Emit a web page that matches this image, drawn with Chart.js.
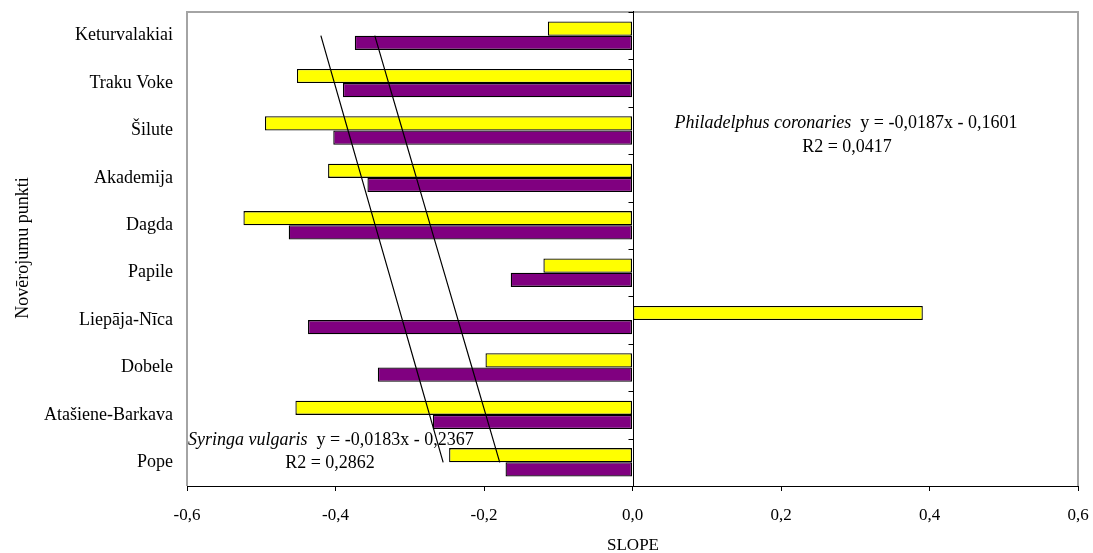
<!DOCTYPE html>
<html>
<head>
<meta charset="utf-8">
<script src="https://cdn.jsdelivr.net/npm/chart.js@4.4.1/dist/chart.umd.min.js"></script>
<style>
    html, body { margin: 0; padding: 0; background: #ffffff; }
    #wrap { width: 1093px; height: 553px; position: relative; }
</style>
</head>
<body>
<div id="wrap"><canvas id="slopes"></canvas></div>
<script>
const stations = [
    'Keturvalakiai',
    'Traku Voke',
    'Šilute',
    'Akademija',
    'Dagda',
    'Papile',
    'Liepāja-Nīca',
    'Dobele',
    'Atašiene-Barkava',
    'Pope',
];

const philadelphusSlopes = [-0.114, -0.452, -0.495, -0.410, -0.524, -0.120, 0.391, -0.198, -0.454, -0.247];
const syringaSlopes = [-0.374, -0.390, -0.403, -0.357, -0.463, -0.164, -0.437, -0.343, -0.269, -0.171];

// linear trends; x counts stations from the bottom (Pope = 1)
const philadelphusTrend = { name: 'Philadelphus coronaries', slope: -0.0187, intercept: -0.1601, r2: 0.0417 };
const syringaTrend = { name: 'Syringa vulgaris', slope: -0.0183, intercept: -0.2367, r2: 0.2862 };

const slopeMin = -0.6;
const slopeMax = 0.6;
const slopeStep = 0.2;

const serif = '"Liberation Serif", "Times New Roman", serif';

function comma(value, digits) {
    if (Math.abs(value) < 1e-9) {
        value = 0;
    }
    return value.toFixed(digits).replace('.', ',');
}

function trendValues(trend) {
    return stations.map((_, index) => trend.slope * (stations.length - index) + trend.intercept);
}

function equationText(trend) {
    const sign = trend.intercept < 0 ? '-' : '+';
    return `y = ${comma(trend.slope, 4)}x ${sign} ${comma(Math.abs(trend.intercept), 4)}`;
}

function drawEquation(ctx, trend, x, y, align) {
    const italic = `italic 18px ${serif}`;
    const plain = `18px ${serif}`;
    const name = trend.name + '  ';
    const eq = equationText(trend);

    ctx.font = italic;
    const nameWidth = ctx.measureText(name).width;
    ctx.font = plain;
    const eqWidth = ctx.measureText(eq).width;

    let start = x;
    if (align === 'center') {
        start = x - (nameWidth + eqWidth) / 2;
    }

    ctx.textAlign = 'left';
    ctx.textBaseline = 'middle';
    ctx.font = italic;
    ctx.fillText(name, start, y);
    ctx.font = plain;
    ctx.fillText(eq, start + nameWidth, y);
}

const decorations = {
    id: 'decorations',
    beforeDraw(chart) {
        const { ctx, chartArea: area } = chart;
        ctx.save();
        ctx.strokeStyle = '#a4a4a4';
        ctx.lineWidth = 2;
        ctx.beginPath();
        ctx.moveTo(area.left, area.bottom);
        ctx.lineTo(area.left, area.top);
        ctx.lineTo(area.right, area.top);
        ctx.lineTo(area.right, area.bottom);
        ctx.stroke();
        ctx.restore();
    },
    afterDatasetsDraw(chart) {
        const { ctx, chartArea: area, scales } = chart;
        const zero = Math.round(scales.x.getPixelForValue(0)) + 0.5;
        const band = (area.bottom - area.top) / stations.length;

        ctx.save();
        ctx.strokeStyle = '#000000';
        ctx.lineWidth = 1;
        ctx.beginPath();
        ctx.moveTo(zero, area.top - 1);
        ctx.lineTo(zero, area.bottom);
        for (let i = 0; i <= stations.length; i += 1) {
            const y = Math.round(area.top + band * i) + 0.5;
            ctx.moveTo(zero - 5, y);
            ctx.lineTo(zero, y);
        }
        ctx.stroke();

        ctx.fillStyle = '#000000';
        drawEquation(ctx, philadelphusTrend, 846, 123, 'center');
        drawEquation(ctx, syringaTrend, 188, 440, 'left');

        ctx.font = `18px ${serif}`;
        ctx.textAlign = 'center';
        ctx.textBaseline = 'middle';
        ctx.fillText(`R2 = ${comma(philadelphusTrend.r2, 4)}`, 847, 147);
        ctx.fillText(`R2 = ${comma(syringaTrend.r2, 4)}`, 330, 463);

        ctx.font = `17px ${serif}`;
        ctx.fillText('SLOPE', 633, 546);

        ctx.translate(23, 248);
        ctx.rotate(-Math.PI / 2);
        ctx.font = `18px ${serif}`;
        ctx.fillText('Novērojumu punkti', 0, 0);
        ctx.restore();
    },
};

new Chart(document.getElementById('slopes'), {
    type: 'bar',
    data: {
        labels: stations,
        datasets: [
            {
                type: 'line',
                label: 'Syringa vulgaris trend',
                data: trendValues(syringaTrend),
                indexAxis: 'y',
                borderColor: '#000000',
                borderWidth: 1.2,
                pointRadius: 0,
                fill: false,
                order: 1,
            },
            {
                type: 'line',
                label: 'Philadelphus coronaries trend',
                data: trendValues(philadelphusTrend),
                indexAxis: 'y',
                borderColor: '#000000',
                borderWidth: 1.2,
                pointRadius: 0,
                fill: false,
                order: 1,
            },
            {
                label: 'Philadelphus coronaries',
                data: philadelphusSlopes,
                backgroundColor: '#ffff00',
                borderColor: '#000000',
                borderWidth: 1.3,
                borderSkipped: false,
                order: 2,
            },
            {
                label: 'Syringa vulgaris',
                data: syringaSlopes,
                backgroundColor: '#800080',
                borderColor: '#000000',
                borderWidth: 1.3,
                borderSkipped: false,
                order: 2,
            },
        ],
    },
    options: {
        indexAxis: 'y',
        responsive: true,
        maintainAspectRatio: false,
        animation: false,
        categoryPercentage: 0.6,
        barPercentage: 1,
        layout: {
            padding: { left: 0, right: 15, top: 12, bottom: 0 },
        },
        plugins: {
            legend: { display: false },
            tooltip: { enabled: false },
        },
        scales: {
            x: {
                type: 'linear',
                min: slopeMin,
                max: slopeMax,
                afterFit: (scale) => {
                    scale.height = 67;
                    scale.paddingLeft = 0;
                    scale.paddingRight = 0;
                },
                grid: {
                    drawOnChartArea: false,
                    drawTicks: true,
                    tickLength: 5,
                    color: '#000000',
                },
                border: { display: true, color: '#000000', width: 1 },
                ticks: {
                    stepSize: slopeStep,
                    padding: 14,
                    color: '#000000',
                    font: { family: serif, size: 17 },
                    callback: (value) => comma(value, 1),
                },
            },
            y: {
                type: 'category',
                offset: true,
                afterFit: (scale) => {
                    scale.width = 187;
                    scale.paddingTop = 0;
                    scale.paddingBottom = 0;
                },
                grid: { display: false, drawTicks: false },
                border: { display: false },
                ticks: {
                    padding: 14,
                    color: '#000000',
                    font: { family: serif, size: 18 },
                },
            },
        },
    },
    plugins: [decorations],
});
</script>
</body>
</html>
